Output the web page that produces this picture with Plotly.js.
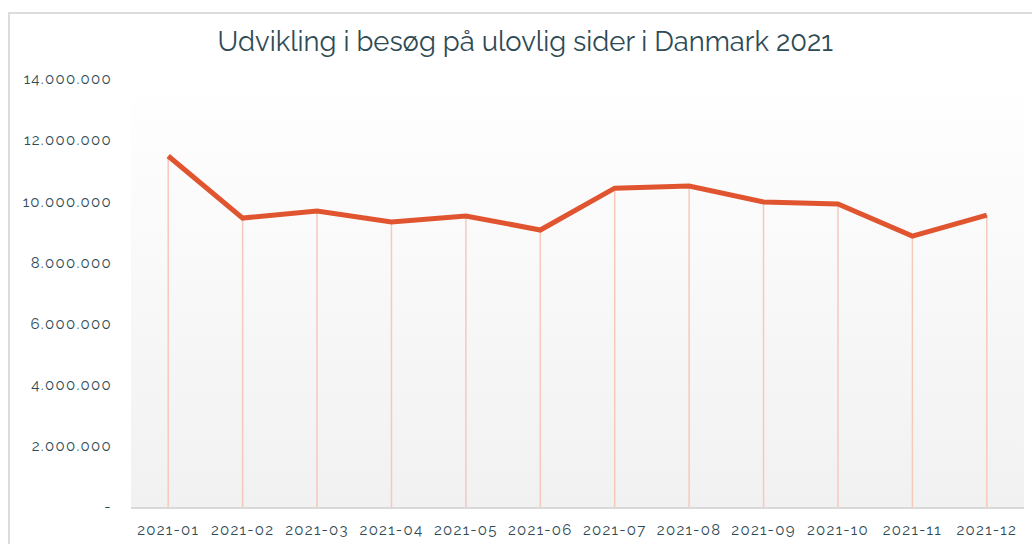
<!DOCTYPE html>
<html>
<head>
<meta charset="utf-8">
<script src="https://cdn.plot.ly/plotly-3.0.1.min.js"></script>
<style>
  html, body { margin: 0; padding: 0; background: #ffffff; overflow: hidden; }
  #frame { position: absolute; left: 8px; top: 12px; width: 1100px; height: 600px; border: 2px solid #dcdcdc; box-sizing: border-box; }
  #chart { position: absolute; left: 0; top: 0; width: 1032px; height: 544px; }
  #chart .xtick text, #chart .ytick text { letter-spacing: 1.3px; }
</style>
</head>
<body>
<div id="frame"></div>
<div id="chart"></div>
<script>
// Data
const months = ["2021-01","2021-02","2021-03","2021-04","2021-05","2021-06","2021-07","2021-08","2021-09","2021-10","2021-11","2021-12"];
const visits = [11480000, 9450000, 9680000, 9320000, 9520000, 9060000, 10430000, 10500000, 9980000, 9910000, 8860000, 9550000];
const yTickValues = [0, 2000000, 4000000, 6000000, 8000000, 10000000, 12000000, 14000000];
const yTickLabels = ["-", "2.000.000", "4.000.000", "6.000.000", "8.000.000", "10.000.000", "12.000.000", "14.000.000"];

// drop lines built from the data
const dropX = [], dropY = [];
months.forEach((m, i) => { dropX.push(m, m, null); dropY.push(0, visits[i], null); });

const textColor = "#2e4a55";
const font = "Raleway, Lato, 'Open Sans', sans-serif";

const gradSvg = "<svg xmlns='http://www.w3.org/2000/svg' width='10' height='100' preserveAspectRatio='none'><defs><linearGradient id='g' x1='0' y1='0' x2='0' y2='1'><stop offset='0' stop-color='#ffffff'/><stop offset='1' stop-color='#f1f1f1'/></linearGradient></defs><rect width='10' height='100' fill='url(#g)'/></svg>";
const gradSrc = "data:image/svg+xml;charset=utf-8," + encodeURIComponent(gradSvg);

const traces = [
  {
    x: dropX, y: dropY, type: "scatter", mode: "lines",
    line: { color: "#f6c9bb", width: 1.5 }, hoverinfo: "skip", showlegend: false
  },
  {
    x: months, y: visits, type: "scatter", mode: "lines",
    line: { color: "#e0552f", width: 5 }, showlegend: false
  }
];

const layout = {
  width: 1032, height: 544,
  margin: { l: 131, r: 8, t: 79, b: 37 },
  paper_bgcolor: "rgba(0,0,0,0)",
  plot_bgcolor: "rgba(0,0,0,0)",
  title: {
    text: "Udvikling i besøg på ulovlig sider i Danmark 2021",
    font: { family: font, size: 27.4, color: textColor },
    x: 0.509, xanchor: "center", y: 0.924, yanchor: "middle"
  },
  xaxis: {
    type: "category",
    range: [-0.5, 11.5],
    showgrid: false, zeroline: false,
    showline: true, linecolor: "#d9d9d9", linewidth: 2,
    ticks: "", ticklabelstandoff: 8,
    tickfont: { family: font, size: 15, color: textColor }
  },
  yaxis: {
    range: [0, 14000000],
    showgrid: false, zeroline: false, showline: false,
    tickvals: yTickValues, ticktext: yTickLabels,
    ticks: "", ticklabelstandoff: 18,
    tickfont: { family: font, size: 15, color: textColor }
  },
  images: [{
    source: gradSrc, xref: "paper", yref: "paper",
    x: 0, y: 1, sizex: 1, sizey: 1, sizing: "stretch",
    xanchor: "left", yanchor: "top", layer: "below"
  }]
};

Plotly.newPlot("chart", traces, layout, { displayModeBar: false, staticPlot: true });
</script>
</body>
</html>
